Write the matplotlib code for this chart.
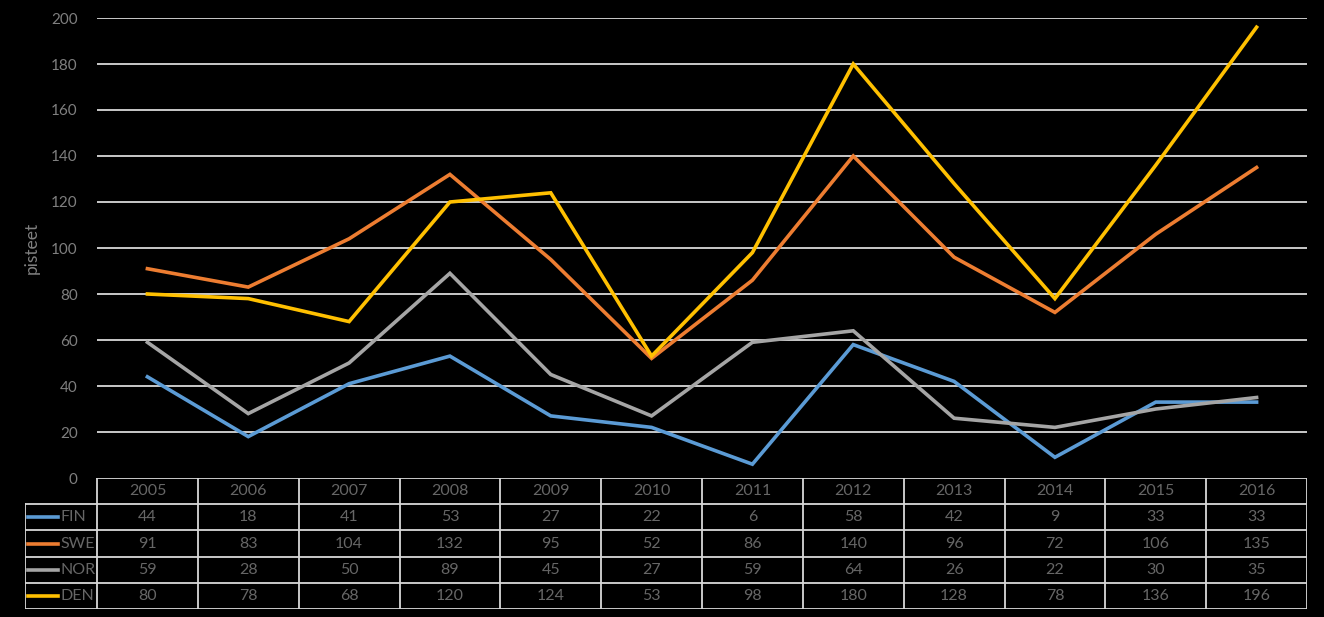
import matplotlib.pyplot as plt

plt.rcParams['font.family'] = ['Lato', 'DejaVu Sans']

years = ['2005', '2006', '2007', '2008', '2009', '2010', '2011', '2012', '2013', '2014', '2015', '2016']
fin = [44, 18, 41, 53, 27, 22, 6, 58, 42, 9, 33, 33]
swe = [91, 83, 104, 132, 95, 52, 86, 140, 96, 72, 106, 135]
nor = [59, 28, 50, 89, 45, 27, 59, 64, 26, 22, 30, 35]
den = [80, 78, 68, 120, 124, 53, 98, 180, 128, 78, 136, 196]

series = [('FIN', fin, '#5B9BD5'), ('SWE', swe, '#ED7D31'),
          ('NOR', nor, '#A5A5A5'), ('DEN', den, '#FFC000')]

W, H = 1324, 617
grid_col = '#d9d9d9'
tick_col = '#7f7f7f'
txt_col = '#666666'

fig = plt.figure(figsize=(W / 100, H / 100), dpi=100, facecolor='black')

# main chart area
x0, x1, ytop, ybot = 97, 1307, 18, 478
ax = fig.add_axes([x0 / W, 1 - ybot / H, (x1 - x0) / W, (ybot - ytop) / H])
ax.set_facecolor('black')
xs = range(len(years))
for name, vals, col in series:
    ax.plot(xs, vals, color=col, lw=2.6, solid_joinstyle='miter', zorder=3)
ax.set_xlim(-0.5, len(years) - 0.5)
ax.set_ylim(0, 200)
ax.set_yticks(range(0, 201, 20))
ax.tick_params(axis='y', length=0, colors=tick_col, labelsize=11, pad=14)
ax.set_xticks([])
for y in range(20, 201, 20):
    ax.axhline(y, color=grid_col, lw=1.3, zorder=1)
for s in ax.spines.values():
    s.set_visible(False)
ax.set_ylabel('pisteet', color=tick_col, fontsize=12.5, labelpad=8)

# data table below
lx = 25
tab_bot = 609
unit = (x1 - x0) / len(years)
tx = fig.add_axes([lx / W, 1 - tab_bot / H, (x1 - lx) / W, (tab_bot - ybot) / H])
tx.set_facecolor('black')
tx.set_xlim(-0.5 - (x0 - lx) / unit, len(years) - 0.5)
tx.set_ylim(5, 0)
tx.axis('off')
left = -0.5 - (x0 - lx) / unit
lw = 1.3
tx.plot([-0.5, len(years) - 0.5], [0, 0], color=grid_col, lw=lw)
for r in range(1, 6):
    tx.plot([left, len(years) - 0.5], [r, r], color=grid_col, lw=lw)
for c in range(len(years) + 1):
    tx.plot([c - 0.5, c - 0.5], [0, 5], color=grid_col, lw=lw)
tx.plot([left, left], [1, 5], color=grid_col, lw=lw)
for i, yr in enumerate(years):
    tx.text(i, 0.5, yr, color=txt_col, fontsize=11.5, ha='center', va='center')
for r, (name, vals, col) in enumerate(series, start=1):
    tx.plot([left + 0.03, left + 0.33], [r + 0.5, r + 0.5], color=col, lw=2.6)
    tx.text(left + 0.35, r + 0.5, name, color=txt_col, fontsize=11.5, ha='left', va='center')
    for i, v in enumerate(vals):
        tx.text(i, r + 0.5, str(v), color=txt_col, fontsize=11.5, ha='center', va='center')

fig.savefig('out.png', dpi=100, facecolor='black')
